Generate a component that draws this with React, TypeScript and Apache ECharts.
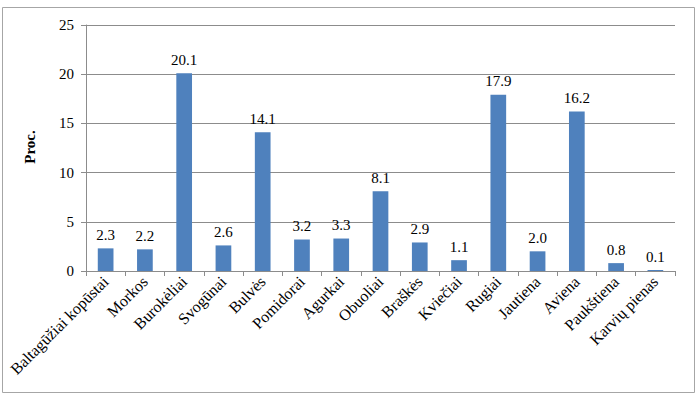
import React, { useEffect, useRef } from "react";
import * as echarts from "echarts";

const categories = [
  "Baltagūžiai kopūstai",
  "Morkos",
  "Burokėliai",
  "Svogūnai",
  "Bulvės",
  "Pomidorai",
  "Agurkai",
  "Obuoliai",
  "Braškės",
  "Kviečiai",
  "Rugiai",
  "Jautiena",
  "Aviena",
  "Paukštiena",
  "Karvių pienas",
];
const values = [2.3, 2.2, 20.1, 2.6, 14.1, 3.2, 3.3, 8.1, 2.9, 1.1, 17.9, 2.0, 16.2, 0.8, 0.1];
const yTitle = "Proc.";

export default function App() {
  const ref = useRef<HTMLDivElement>(null);
  useEffect(() => {
    const chart = echarts.init(ref.current!, null, { renderer: "svg" });
    const font = "Liberation Serif";
    chart.setOption({
      animation: false,
      backgroundColor: "#ffffff",
      textStyle: { fontFamily: font },
      graphic: [
        {
          type: "rect",
          shape: { x: 2.5, y: 7.5, width: 692, height: 385 },
          style: { fill: "none", stroke: "#a6a6a6", lineWidth: 1 },
          silent: true,
        },
        {
          type: "text",
          x: 30,
          y: 147,
          rotation: Math.PI / 2,
          style: {
            text: yTitle,
            fontFamily: font,
            fontWeight: "bold",
            fontSize: 15,
            fill: "#000",
            align: "center",
            verticalAlign: "middle",
          },
        },
      ],
      grid: { left: 86, right: 25, top: 25, bottom: 126, containLabel: false },
      xAxis: {
        type: "category",
        data: categories,
        axisLine: { lineStyle: { color: "#8c8c8c" } },
        axisTick: { show: true, alignWithLabel: false, length: 5, lineStyle: { color: "#8c8c8c" } },
        axisLabel: {
          rotate: 45,
          interval: 0,
          color: "#000",
          fontFamily: font,
          fontSize: 16,
          margin: 8,
        },
      },
      yAxis: {
        type: "value",
        min: 0,
        max: 25,
        interval: 5,
        axisLine: { show: true, lineStyle: { color: "#8c8c8c" } },
        axisTick: { show: true, length: 5, lineStyle: { color: "#8c8c8c" } },
        axisLabel: { color: "#000", fontFamily: font, fontSize: 15, margin: 12 },
        splitLine: { lineStyle: { color: "#8c8c8c" } },
      },
      series: [
        {
          type: "bar",
          data: values,
          barCategoryGap: "60%",
          itemStyle: { color: "#4f81bd" },
          label: {
            show: true,
            position: "top",
            distance: 6,
            color: "#000",
            fontFamily: font,
            fontSize: 15,
            formatter: (p: any) => Number(p.value).toFixed(1),
          },
        },
      ],
    });
    return () => chart.dispose();
  }, []);
  return (
    <div
      ref={ref}
      style={{ position: "absolute", left: 0, top: 0, width: 700, height: 397 }}
    />
  );
}
